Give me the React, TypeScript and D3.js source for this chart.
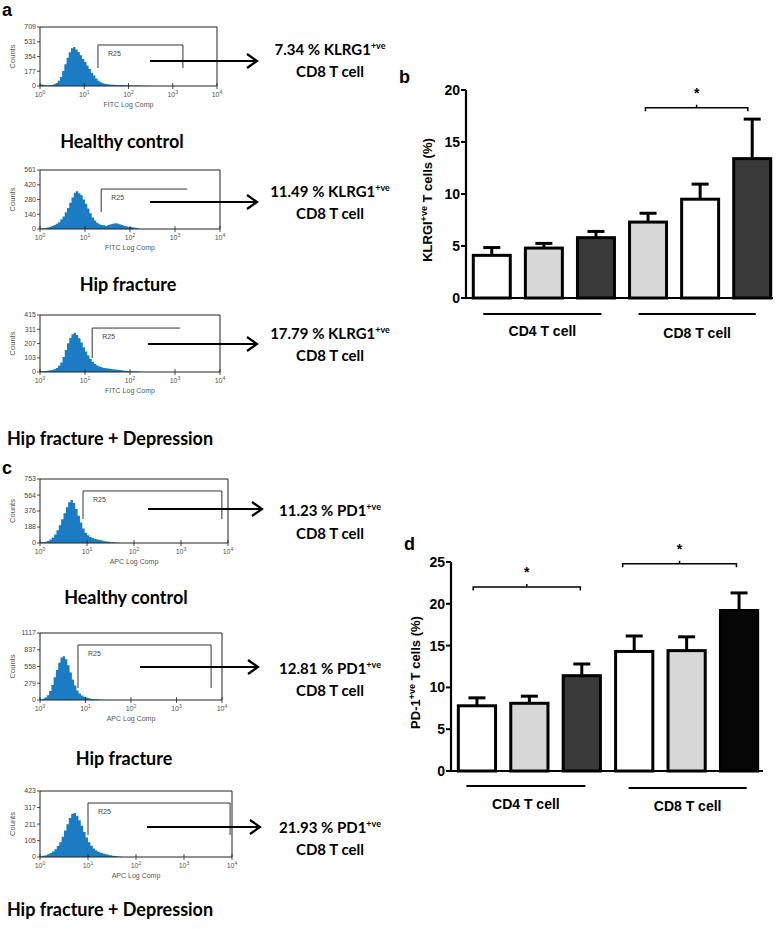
import React from "react";
import * as d3 from "d3";

// ---------- DATA ----------
const BIN_STEP = 0.05; // decades per histogram channel, starting at 10^0

// KLRG1 (FITC) histograms, counts per channel
const histKlrgHealthy = [18, 14, 9, 7, 9, 13, 22, 36, 63, 108, 180, 260, 340, 405, 455, 470, 440, 410, 370, 325, 290, 245, 205, 160, 125, 90, 63, 45, 34, 27, 22, 18, 16, 14, 13, 12, 11, 11, 9, 9, 8, 7, 7, 6, 5, 5, 4, 3, 3, 2, 0];
const histKlrgHip = [5, 8, 10, 15, 20, 28, 38, 50, 65, 90, 120, 160, 200, 250, 300, 345, 360, 340, 320, 280, 240, 195, 150, 110, 80, 60, 45, 38, 35, 32, 38, 45, 50, 55, 52, 45, 38, 30, 25, 20, 18, 15, 12, 8, 0];
const histKlrgHipDep = [5, 5, 8, 10, 12, 15, 20, 30, 45, 70, 110, 160, 210, 250, 275, 285, 270, 245, 215, 180, 150, 120, 95, 75, 60, 48, 40, 35, 30, 27, 25, 22, 20, 18, 16, 14, 12, 10, 9, 8, 6, 5, 4, 3, 2, 0];
// PD-1 (APC) histograms
const histPdHealthy = [10, 12, 15, 25, 40, 65, 100, 150, 210, 280, 350, 420, 480, 505, 470, 400, 320, 240, 170, 120, 90, 70, 58, 48, 40, 34, 28, 22, 18, 14, 10, 8, 5, 3, 0];
const histPdHip = [10, 20, 40, 80, 150, 250, 380, 500, 620, 710, 730, 680, 580, 460, 340, 240, 160, 110, 75, 55, 40, 30, 22, 16, 12, 8, 5, 3, 0];
const histPdHipDep = [5, 8, 12, 18, 25, 35, 50, 70, 95, 130, 170, 210, 250, 275, 282, 265, 235, 200, 160, 125, 95, 72, 55, 42, 33, 27, 22, 18, 14, 11, 8, 6, 4, 2, 0];

const klrgCountTicks = [
  [0, 177, 354, 531, 709],
  [0, 140, 280, 420, 561],
  [0, 103, 207, 311, 415],
];
const pdCountTicks = [
  [0, 188, 376, 564, 753],
  [0, 279, 558, 837, 1117],
  [0, 105, 211, 317, 423],
];
// gates: [start decade, end decade, top count, left drop count, right drop count]
const klrgGates = [
  [1.31, 3.23, 493, 216, 216],
  [1.36, 3.27, 380, 162, 380],
  [1.16, 3.11, 320, 102, 320],
];
const pdGates = [
  [0.915, 3.87, 612, 282, 282],
  [0.835, 3.76, 917, 200, 200],
  [1.0, 3.96, 346, 141, 141],
];

const decadeTicks = [0, 1, 2, 3, 4];
const groupNames = ["Healthy control", "Hip fracture", "Hip fracture + Depression"];
const klrgPercent = ["7.34", "11.49", "17.79"];
const pdPercent = ["11.23", "12.81", "21.93"];

const barIds = ["CD4-HC", "CD4-HF", "CD4-HFD", "CD8-a", "CD8-b", "CD8-c"];
const cellGroups = ["CD4 T cell", "CD8 T cell"];
const klrgMeans = [4.1, 4.8, 5.8, 7.3, 9.5, 13.4];
const klrgSem = [0.75, 0.45, 0.6, 0.85, 1.45, 3.8];
const pdMeans = [7.8, 8.1, 11.4, 14.3, 14.4, 19.2];
const pdSem = [0.95, 0.85, 1.4, 1.85, 1.65, 2.1];
const klrgTicks = [0, 5, 10, 15, 20];
const pdTicks = [0, 5, 10, 15, 20, 25];

// ---------- STYLE ----------
const BLUE = "#1b7cc3";
const LABEL_FONT = "Lato, 'Open Sans', sans-serif";
const ARIAL = "'Liberation Sans', Arial, sans-serif";
const SMALL = "'Liberation Sans', Arial, sans-serif";
const klrgFills = ["#ffffff", "#d7d7d7", "#3a3a3a", "#d7d7d7", "#ffffff", "#3a3a3a"];
const pdFills = ["#ffffff", "#d7d7d7", "#3a3a3a", "#ffffff", "#d7d7d7", "#050505"];

type HistProps = {
  counts: number[];
  ticks: number[];
  gate: number[];
  top: number;
  bottom: number;
  right: number;
  xTitle: string;
};

function Histogram({ counts, ticks, gate, top, bottom, right, xTitle }: HistProps) {
  const left = 40;
  const x = d3.scaleLinear().domain([0, 4]).range([left, right]);
  const y = d3.scaleLinear().domain([0, ticks[ticks.length - 1]]).range([bottom, top]);
  const area = d3
    .area<number>()
    .x((_, i) => x(i * BIN_STEP))
    .y0(bottom)
    .y1((d) => y(d))
    .curve(d3.curveStepAfter);
  const [g0, g1, gTop, gL, gR] = gate;
  return (
    <g>
      <path d={area(counts) || ""} fill={BLUE} />
      {/* frame */}
      <path d={`M${left},${top}H${right}V${bottom}`} fill="none" stroke="#222" strokeWidth={1} />
      <line x1={left} x2={left} y1={top} y2={bottom} stroke="#222" strokeWidth={1} />
      <line x1={left} x2={right} y1={bottom} y2={bottom} stroke="#222" strokeWidth={1} />
      {ticks.map((t) => (
        <g key={t}>
          <line x1={left - 3} x2={left} y1={y(t)} y2={y(t)} stroke="#222" strokeWidth={0.8} />
          <text x={left - 4} y={y(t)} dy="0.35em" fontSize={7} fontFamily={SMALL} textAnchor="end" fill="#444">
            {t}
          </text>
        </g>
      ))}
      {decadeTicks.map((d) => (
        <g key={d}>
          <line x1={x(d)} x2={x(d)} y1={bottom - 3} y2={bottom + 3} stroke="#222" strokeWidth={0.8} />
          <text x={x(d)} y={bottom + 11} fontSize={7} fontFamily={SMALL} textAnchor="middle" fill="#555">
            10<tspan dy={-3} fontSize={5}>{d}</tspan>
          </text>
        </g>
      ))}
      <text x={x(2)} y={bottom + 21} fontSize={7} fontFamily={SMALL} textAnchor="middle" fill="#555">
        {xTitle}
      </text>
      <text
        transform={`translate(15,${(top + bottom) / 2}) rotate(-90)`}
        fontSize={7.5}
        fontFamily={SMALL}
        textAnchor="middle"
        fill="#555"
      >
        Counts
      </text>
      {/* R25 gate */}
      <path
        d={`M${x(g0)},${y(gL)}V${y(gTop)}H${x(g1)}V${y(gR)}`}
        fill="none"
        stroke="#333"
        strokeWidth={1}
      />
      <text x={x(g0) + 10} y={y(gTop) + 11} fontSize={7} fontFamily={SMALL} fill="#444">
        R25
      </text>
    </g>
  );
}

function Arrow({ x1, x2, y }: { x1: number; x2: number; y: number }) {
  return (
    <g stroke="#000" strokeWidth={2.2} fill="none">
      <line x1={x1} x2={x2} y1={y} y2={y} />
      <path d={`M${x2 - 10},${y - 7}L${x2},${y}L${x2 - 10},${y + 7}`} />
    </g>
  );
}

function PercentText({ cx, y1, y2, pct, marker }: { cx: number; y1: number; y2: number; pct: string; marker: string }) {
  return (
    <g fontFamily={LABEL_FONT} fontWeight={700} fill="#000" textAnchor="middle">
      <text x={cx} y={y1} fontSize={15}>
        {`${pct} % ${marker}`}
        <tspan dy={-6} fontSize={9}>
          +ve
        </tspan>
      </text>
      <text x={cx} y={y2} fontSize={15}>
        CD8 T cell
      </text>
    </g>
  );
}

type BarProps = {
  means: number[];
  sem: number[];
  fills: string[];
  ticks: number[];
  axisX: number;
  y0: number;
  yTopPx: number;
  bandRange: [number, number];
  xAxisEnd: number;
  label: string;
  sup: string;
  labelRest: string;
  labelX: number;
  brackets: { from: number; fa: number; to: number; fb: number; level: number }[];
  groupLines: { a: number; oa: number; b: number; ob: number; dy: number; ty: number }[];
};

function BarPanel(p: BarProps) {
  const y = d3
    .scaleLinear()
    .domain([0, p.ticks[p.ticks.length - 1]])
    .range([p.y0, p.yTopPx]);
  const x = d3.scaleBand<string>().domain(barIds).range(p.bandRange).paddingInner(0.29).paddingOuter(0.14);
  const bw = x.bandwidth();
  return (
    <g>
      {/* error bars */}
      {barIds.map((id, i) => {
        const cx = (x(id) as number) + bw / 2;
        const yt = y(p.means[i] + p.sem[i]);
        return (
          <g key={id} stroke="#000" strokeWidth={3}>
            <line x1={cx} x2={cx} y1={y(p.means[i])} y2={yt} />
            <line x1={cx - 8.5} x2={cx + 8.5} y1={yt} y2={yt} />
          </g>
        );
      })}
      {barIds.map((id, i) => (
        <rect
          key={id}
          x={x(id)}
          y={y(p.means[i])}
          width={bw}
          height={p.y0 - y(p.means[i])}
          fill={p.fills[i]}
          stroke="#000"
          strokeWidth={3}
        />
      ))}
      {/* axes */}
      <line x1={p.axisX} x2={p.axisX} y1={p.yTopPx} y2={p.y0} stroke="#000" strokeWidth={2.2} />
      <line x1={p.axisX} x2={p.xAxisEnd} y1={p.y0} y2={p.y0} stroke="#000" strokeWidth={2.2} />
      {p.ticks.map((t) => (
        <g key={t}>
          <line x1={p.axisX - 5} x2={p.axisX} y1={y(t)} y2={y(t)} stroke="#000" strokeWidth={2} />
          <text
            x={p.axisX - 6}
            y={y(t)}
            dy="0.36em"
            fontSize={14}
            fontWeight={700}
            fontFamily={ARIAL}
            textAnchor="end"
          >
            {t}
          </text>
        </g>
      ))}
      <text
        transform={`translate(${p.labelX},${(p.y0 + p.yTopPx) / 2 + 6}) rotate(-90)`}
        fontSize={13}
        fontWeight={700}
        fontFamily={ARIAL}
        textAnchor="middle"
      >
        {p.label}
        <tspan dy={-5} fontSize={9}>
          {p.sup}
        </tspan>
        <tspan dy={5}>{p.labelRest}</tspan>
      </text>
      {/* significance brackets */}
      {p.brackets.map((b, i) => {
        const xa = (x(barIds[b.from]) as number) + bw * b.fa;
        const xb = (x(barIds[b.to]) as number) + bw * b.fb;
        const yy = y(b.level);
        const xm = (xa + xb) / 2;
        return (
          <g key={i}>
            <path
              d={`M${xa},${yy + 3.5}V${yy}H${xb}V${yy + 3.5}M${xm},${yy}V${yy - 3}`}
              fill="none"
              stroke="#000"
              strokeWidth={1.5}
            />
            <text x={xm} y={yy - 10} fontSize={14} fontWeight={700} fontFamily={ARIAL} textAnchor="middle">
              *
            </text>
          </g>
        );
      })}
      {/* group lines */}
      {p.groupLines.map((g, i) => {
        const xa = (x(barIds[g.a]) as number) + g.oa;
        const xb = (x(barIds[g.b]) as number) + bw + g.ob;
        return (
          <g key={i}>
            <line x1={xa} x2={xb} y1={p.y0 + g.dy} y2={p.y0 + g.dy} stroke="#000" strokeWidth={2} />
            <text
              x={(xa + xb) / 2}
              y={p.y0 + g.ty}
              fontSize={14}
              fontWeight={700}
              fontFamily={ARIAL}
              textAnchor="middle"
            >
              {cellGroups[i]}
            </text>
          </g>
        );
      })}
    </g>
  );
}

const klrgLayout = [
  { top: 27, bottom: 86, right: 217, arrowY: 61, ax1: 150, tip: 257, t1: 55, t2: 77, gl: 148, gx: 122 },
  { top: 170, bottom: 229, right: 220, arrowY: 202, ax1: 150, tip: 257, t1: 197, t2: 219, gl: 291, gx: 128 },
  { top: 315, bottom: 372, right: 220, arrowY: 344, ax1: 148, tip: 257, t1: 339, t2: 361, gl: 445, gx: 110 },
];
const pdLayout = [
  { top: 479, bottom: 543, right: 228, arrowY: 509, ax1: 148, tip: 262, t1: 516, t2: 539, gl: 604, gx: 126 },
  { top: 633, bottom: 700, right: 222, arrowY: 667, ax1: 140, tip: 258, t1: 674, t2: 696, gl: 765, gx: 124 },
  { top: 791, bottom: 857, right: 232, arrowY: 827, ax1: 147, tip: 260, t1: 833, t2: 855, gl: 916, gx: 110 },
];

export default function App() {
  const klrgHists = [histKlrgHealthy, histKlrgHip, histKlrgHipDep];
  const pdHists = [histPdHealthy, histPdHip, histPdHipDep];
  return (
    <svg width={778} height={929} viewBox="0 0 778 929" style={{ position: "absolute", left: 0, top: 0, background: "#fff" }}>
      <rect width={778} height={929} fill="#fff" />
      {/* panel letters */}
      <g fontFamily={ARIAL} fontWeight={700} fontSize={18}>
        <text x={2} y={16}>a</text>
        <text x={399} y={83}>b</text>
        <text x={2} y={474}>c</text>
        <text x={404} y={550}>d</text>
      </g>
      {klrgLayout.map((L, i) => (
        <g key={"k" + i}>
          <Histogram
            counts={klrgHists[i]}
            ticks={klrgCountTicks[i]}
            gate={klrgGates[i]}
            top={L.top}
            bottom={L.bottom}
            right={L.right}
            xTitle="FITC Log Comp"
          />
          <Arrow x1={L.ax1} x2={L.tip} y={L.arrowY} />
          <PercentText cx={330} y1={L.t1} y2={L.t2} pct={klrgPercent[i]} marker="KLRG1" />
          <text x={L.gx} y={L.gl} fontFamily={LABEL_FONT} fontWeight={700} fontSize={18} textAnchor="middle">
            {groupNames[i]}
          </text>
        </g>
      ))}
      {pdLayout.map((L, i) => (
        <g key={"p" + i}>
          <Histogram
            counts={pdHists[i]}
            ticks={pdCountTicks[i]}
            gate={pdGates[i]}
            top={L.top}
            bottom={L.bottom}
            right={L.right}
            xTitle="APC Log Comp"
          />
          <Arrow x1={L.ax1} x2={L.tip} y={L.arrowY} />
          <PercentText cx={330} y1={L.t1} y2={L.t2} pct={pdPercent[i]} marker="PD1" />
          <text x={L.gx} y={L.gl} fontFamily={LABEL_FONT} fontWeight={700} fontSize={18} textAnchor="middle">
            {groupNames[i]}
          </text>
        </g>
      ))}
      <BarPanel
        means={klrgMeans}
        sem={klrgSem}
        fills={klrgFills}
        ticks={klrgTicks}
        axisX={466}
        y0={298}
        yTopPx={90}
        bandRange={[466, 778]}
        xAxisEnd={773}
        label="KLRGI"
        sup="+ve"
        labelRest=" T cells (%)"
        labelX={432}
        brackets={[{ from: 3, fa: 0.43, to: 5, fb: 0.38, level: 18.3 }]}
        groupLines={[
          { a: 0, oa: 10, b: 2, ob: -13, dy: 16, ty: 38 },
          { a: 3, oa: 9, b: 5, ob: -15, dy: 16, ty: 40 },
        ]}
      />
      <BarPanel
        means={pdMeans}
        sem={pdSem}
        fills={pdFills}
        ticks={pdTicks}
        axisX={451}
        y0={771}
        yTopPx={562}
        bandRange={[451, 765]}
        xAxisEnd={763}
        label="PD-1"
        sup="+ve"
        labelRest=" T cells (%)"
        labelX={420}
        brackets={[
          { from: 0, fa: 0.4, to: 2, fb: 0.46, level: 22.0 },
          { from: 3, fa: 0.19, to: 5, fb: 0.43, level: 24.8 },
        ]}
        groupLines={[
          { a: 0, oa: 8, b: 2, ob: -15, dy: 15, ty: 38 },
          { a: 3, oa: 13, b: 5, ob: -11, dy: 17, ty: 40 },
        ]}
      />
    </svg>
  );
}
